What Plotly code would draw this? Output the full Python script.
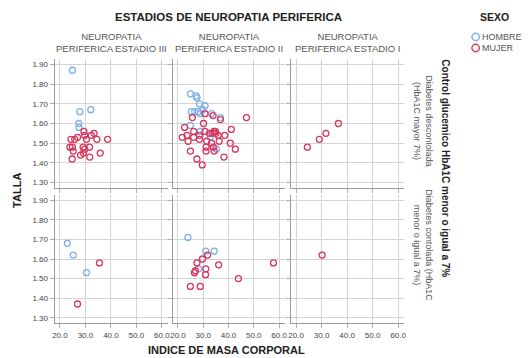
import plotly.graph_objects as go

# ---------------- data (IMC, TALLA) ----------------
# Row 1: Diabetes descontrolada (HbA1C mayor 7%)
# Col III
imc_h_desc_III = [24.9, 27.8, 32.1, 27.4, 27.5]
talla_h_desc_III = [1.87, 1.66, 1.67, 1.60, 1.58]
imc_m_desc_III = [24.3, 25.8, 26.9, 29.4, 29.7, 30.4, 32.3, 33.4, 34.5, 38.7,
                  23.9, 24.9, 25.2, 29.1, 29.7, 31.6, 28.1, 29.2, 24.8, 31.7, 35.8]
talla_m_desc_III = [1.52, 1.52, 1.53, 1.56, 1.54, 1.52, 1.54, 1.55, 1.52, 1.52,
                    1.48, 1.48, 1.46, 1.48, 1.47, 1.48, 1.44, 1.45, 1.42, 1.43, 1.45]
# Col II
imc_h_desc_II = [24.9, 27.2, 27.5, 28.5, 30.7, 29.8, 25.3, 26.6, 28.1, 28.8,
                 33.3, 36.8, 24.9, 28.8, 32.7, 35.2]
talla_h_desc_II = [1.75, 1.74, 1.73, 1.70, 1.69, 1.67, 1.66, 1.66, 1.66, 1.65,
                   1.65, 1.63, 1.59, 1.56, 1.53, 1.47]
imc_m_desc_II = [25.7, 30.7, 33.9, 36.8, 47.1, 30.1, 22.6, 41.1, 21.7, 23.6,
                 26.2, 26.2, 28.5, 30.7, 32.4, 34.2, 35.0, 35.9, 38.5, 24.0,
                 28.5, 31.4, 33.3, 36.3, 40.7, 31.1, 34.0, 42.7, 24.9, 31.1,
                 34.3, 38.2, 27.5, 29.6, 33.6, 34.8]
talla_m_desc_II = [1.63, 1.65, 1.64, 1.62, 1.63, 1.60, 1.58, 1.57, 1.53, 1.54,
                   1.56, 1.53, 1.54, 1.56, 1.55, 1.56, 1.55, 1.54, 1.54, 1.51,
                   1.52, 1.51, 1.50, 1.51, 1.50, 1.48, 1.48, 1.47, 1.46, 1.46,
                   1.46, 1.43, 1.42, 1.39, 1.55, 1.56]
# Col I
imc_h_desc_I = []
talla_h_desc_I = []
imc_m_desc_I = [24.4, 29.1, 31.7, 36.6]
talla_m_desc_I = [1.48, 1.52, 1.55, 1.60]

# Row 2: Diabetes controlada (HbA1C menor o igual a 7%)
imc_h_ctrl_III = [22.9, 25.2, 30.4]
talla_h_ctrl_III = [1.68, 1.62, 1.53]
imc_m_ctrl_III = [35.5, 26.9]
talla_m_ctrl_III = [1.58, 1.37]

imc_h_ctrl_II = [23.9, 31.0, 34.3, 28.2]
talla_h_ctrl_II = [1.71, 1.64, 1.64, 1.55]
imc_m_ctrl_II = [31.7, 29.7, 27.5, 36.1, 57.8, 31.0, 26.9, 26.5, 30.9, 43.9, 24.9, 28.8]
talla_m_ctrl_II = [1.62, 1.60, 1.58, 1.57, 1.58, 1.55, 1.54, 1.53, 1.52, 1.50, 1.46, 1.46]

imc_h_ctrl_I = []
talla_h_ctrl_I = []
imc_m_ctrl_I = [30.2]
talla_m_ctrl_I = [1.62]

col_labels = ["NEUROPATIA<br>PERIFERICA ESTADIO III",
              "NEUROPATIA<br>PERIFERICA ESTADIO II",
              "NEUROPATIA<br>PERIFERICA ESTADIO I"]
row_labels = ["Diabetes descontolada<br>(HbA1C mayor 7%)",
              "Diabetes contolada (HbA1C<br>menor o igual a 7%)"]
x_ticks = [20, 30, 40, 50, 60]
y_ticks = [1.30, 1.40, 1.50, 1.60, 1.70, 1.80, 1.90]
sexo = ["HOMBRE", "MUJER"]

# ---------------- layout ----------------
W, H = 529, 358
def xp(p): return p / W
def yp(p): return 1 - p / H

BLUE = "#7fb0ea"
RED = "#d8365c"
FONT = "Liberation Sans, Arial, sans-serif"

col_px = [(53, 167), (172, 285), (291, 405)]
row_px = [(59, 188), (195, 323)]

panels = [
    [(imc_h_desc_III, talla_h_desc_III, imc_m_desc_III, talla_m_desc_III),
     (imc_h_desc_II, talla_h_desc_II, imc_m_desc_II, talla_m_desc_II),
     (imc_h_desc_I, talla_h_desc_I, imc_m_desc_I, talla_m_desc_I)],
    [(imc_h_ctrl_III, talla_h_ctrl_III, imc_m_ctrl_III, talla_m_ctrl_III),
     (imc_h_ctrl_II, talla_h_ctrl_II, imc_m_ctrl_II, talla_m_ctrl_II),
     (imc_h_ctrl_I, talla_h_ctrl_I, imc_m_ctrl_I, talla_m_ctrl_I)],
]

fig = go.Figure()
layout = {}
k = 0
for r in range(2):
    for c in range(3):
        k += 1
        xa = "x" if k == 1 else f"x{k}"
        ya = "y" if k == 1 else f"y{k}"
        xh, yh, xm, ym = panels[r][c]
        fig.add_trace(go.Scatter(
            x=xh, y=yh, mode="markers", xaxis=xa, yaxis=ya,
            name=sexo[0], showlegend=False,
            marker=dict(symbol="circle-open", size=6, color=BLUE,
                        line=dict(width=1.3, color=BLUE))))
        fig.add_trace(go.Scatter(
            x=xm, y=ym, mode="markers", xaxis=xa, yaxis=ya,
            name=sexo[1], showlegend=False,
            marker=dict(symbol="circle-open", size=6, color=RED,
                        line=dict(width=1.3, color=RED))))
        common = dict(showgrid=True, gridcolor="#d4d4d4", gridwidth=1,
                      showline=True, linecolor="#9a9a9a", linewidth=1,
                      ticks="outside", ticklen=4, tickcolor="#b0b0b0",
                      zeroline=False, mirror=False,
                      tickfont=dict(size=8, color="#444", family=FONT))
        x0, x1 = col_px[c]
        y0, y1 = row_px[r]
        layout["xaxis" if k == 1 else f"xaxis{k}"] = dict(
            common, domain=[xp(x0), xp(x1)], range=[17.9, 62.3],
            anchor=ya, tickvals=x_ticks,
            ticktext=[f"{v:.1f}" for v in x_ticks],
            showticklabels=(r == 1))
        layout["yaxis" if k == 1 else f"yaxis{k}"] = dict(
            common, domain=[yp(y1), yp(y0)], range=[1.273, 1.927],
            anchor=xa, tickvals=y_ticks,
            ticktext=[f"{v:.2f}" for v in y_ticks],
            showticklabels=(c == 0))

def ann(x, y, text, size, color, angle=0, xanchor="center"):
    return dict(x=xp(x), y=yp(y), xref="paper", yref="paper", text=text,
                showarrow=False, xanchor=xanchor, yanchor="middle",
                textangle=angle, font=dict(size=size, color=color, family=FONT))

annotations = []
for c in range(3):
    x0, x1 = col_px[c]
    annotations.append(ann((x0 + x1) / 2, 43, col_labels[c], 9.5, "#555"))
row_centers = [121, 245]
for r in range(2):
    annotations.append(ann(424, row_centers[r], row_labels[r], 9, "#555", 90))
annotations += [
    ann(228, 17, "<b>ESTADIOS DE NEUROPATIA PERIFERICA</b>", 11.5, "#222"),
    ann(446, 168, "<b>Control glucemico HbA1C menor o igual a 7%</b>", 10, "#222", 90),
    ann(15, 190, "<b>TALLA</b>", 11, "#222", -90),
    ann(226, 350, "<b>INDICE DE MASA CORPORAL</b>", 11, "#222"),
    ann(496, 17, "<b>SEXO</b>", 10.5, "#222"),
    ann(482, 37, sexo[0], 9, "#555", xanchor="left"),
    ann(482, 48, sexo[1], 9, "#555", xanchor="left"),
]

# legend symbols
shapes = []
for cy, col in [(37, BLUE), (48, RED)]:
    shapes.append(dict(type="circle", xref="paper", yref="paper",
                       x0=xp(473.5), x1=xp(481), y0=yp(cy + 3.7), y1=yp(cy - 3.7),
                       line=dict(color=col, width=1.4), fillcolor="rgba(0,0,0,0)"))

fig.update_layout(
    **layout,
    width=W, height=H,
    margin=dict(l=0, r=0, t=0, b=0),
    paper_bgcolor="white", plot_bgcolor="white",
    font=dict(family=FONT, size=9, color="#555"),
    annotations=annotations,
    shapes=shapes,
    showlegend=False,
)

fig.write_html("out.html", config={"displayModeBar": False},
               post_script="document.body.style.margin='0px';document.body.style.overflow='hidden';")
